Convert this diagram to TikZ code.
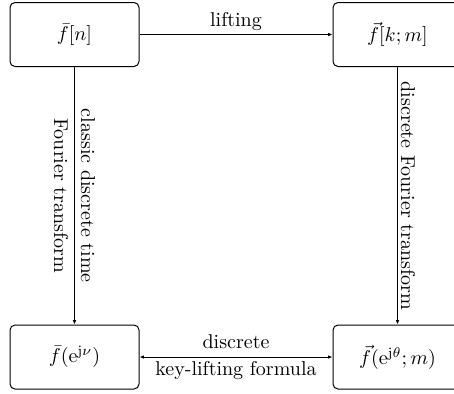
\documentclass[tikz,border=0pt]{standalone}
\usetikzlibrary{arrows.meta}
\begin{document}
\begin{tikzpicture}[x=0.5pt,y=-0.5pt,
  box/.style={draw, rounded corners=2.5pt, minimum width=64.5pt, minimum height=32pt, inner sep=0pt, line width=0.5pt},
  conn/.style={line width=0.5pt, >={Latex[length=2.2pt,width=1.8pt]}},
  lbl/.style={font=\normalsize, align=center, inner sep=1.5pt}]
\useasboundingbox (0,0) rectangle (454,393);
\node[box] (tl) at (74.5,34.5) {$\bar f[n]$};
\node[box] (tr) at (397.5,34.5) {$\vec f[k;m]$};
\node[box] (bl) at (74.5,357) {$\bar f(\mathrm{e}^{\mathrm{j}\nu})$};
\node[box] (br) at (397.5,357) {$\vec f(\mathrm{e}^{\mathrm{j}\theta};m)$};
\draw[conn,->] (tl) -- node[lbl, above] {lifting} (tr);
\draw[conn,<->] (bl) -- node[lbl, fill=white, fill opacity=0, text opacity=1] {discrete\\[1.5pt]key-lifting formula} (br);
\draw[conn,->] (tl) -- node[lbl, sloped, midway] {classic discrete time\\[1.5pt]Fourier transform} (bl);
\draw[conn,->] (tr) -- node[lbl, sloped, midway, above] {discrete Fourier transform} (br);
\end{tikzpicture}
\end{document}
